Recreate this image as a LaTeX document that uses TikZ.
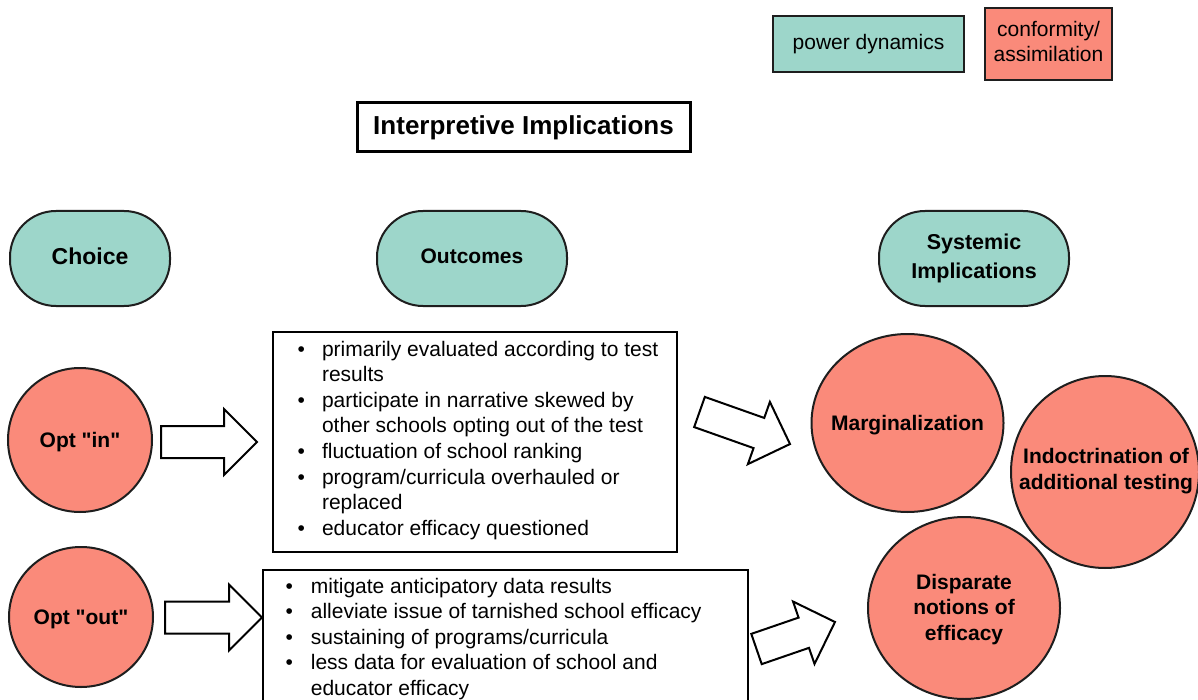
\documentclass[tikz,border=0pt]{standalone}
\usepackage{fontspec}
\setmainfont{Liberation Sans}
\usetikzlibrary{shapes.arrows,shapes.geometric}
\definecolor{tealfill}{RGB}{157,214,202}
\definecolor{salmfill}{RGB}{250,138,122}
\definecolor{edgecol}{RGB}{30,30,30}
\newcommand{\straightquote}{\XeTeXglyph\XeTeXcharglyph"22\relax}
\begin{document}
\begin{tikzpicture}[x=1pt,y=-1pt,
  every node/.style={inner sep=0pt, outer sep=0pt},
  legendbox/.style={draw=edgecol, line width=2.5pt, align=center, font=\fontsize{21}{25}\selectfont},
  stadium/.style={draw=edgecol, line width=2pt, fill=tealfill, rounded corners=46pt,
    minimum width=160pt, minimum height=95pt, align=center},
  choicecirc/.style={ellipse, draw=edgecol, line width=2pt, fill=salmfill},
  circtext/.style={align=center, font=\fontsize{21}{25.5}\selectfont\bfseries},
  listbox/.style={draw=black, line width=2pt, fill=white},
  listtext/.style={anchor=base west, font=\fontsize{21}{25.6}\selectfont},
  blockarrow/.style={single arrow, draw=black, line width=2pt, fill=white, anchor=tail,
    minimum width=0pt, inner xsep=0pt, inner ysep=15pt, single arrow head extend=17pt}
]
\clip (0,0) rectangle (1198,700);
\fill[white] (0,0) rectangle (1198,700);

% legend
\node[legendbox, fill=tealfill, minimum width=191pt, minimum height=56pt] (legpower) at (868.5,44) {power dynamics};
\node[legendbox, fill=salmfill, minimum width=127pt, minimum height=72pt] (legconf) at (1048.5,44) {};
\node[align=center, font=\fontsize{21}{25}\selectfont] (legconftext) at (1048.5,41.5) {conformity/\\assimilation};

% title
\node[draw=black, line width=3pt, fill=white, minimum width=333pt, minimum height=49pt,
  font=\fontsize{26}{30}\selectfont\bfseries] (title) at (523.5,127.5) {Interpretive Implications};

% headers
\node[stadium] (choice) at (90,258.5) {};
\node[font=\fontsize{23}{28}\selectfont\bfseries] (choicetext) at (90,256.5) {Choice};
\node[stadium, minimum width=190pt] (outcomes) at (472,258.5) {};
\node[font=\fontsize{21}{28}\selectfont\bfseries] (outcomestext) at (472,256.5) {Outcomes};
\node[stadium, minimum width=190pt] (systemic) at (974,258.5) {};
\node[align=center, font=\fontsize{21.5}{28.5}\selectfont\bfseries] (systemictext) at (974,258.5) {Systemic\\Implications};

% choice circles
\node[choicecirc, minimum width=144pt, minimum height=144pt] (optin) at (80,440) {};
\node[circtext] (optintext) at (80,442) {Opt \straightquote in\straightquote};
\node[choicecirc, minimum width=144pt, minimum height=140pt] (optout) at (81,617) {};
\node[circtext] (optouttext) at (81,619) {Opt \straightquote out\straightquote};

% outcome boxes
\node[listbox, anchor=north west, minimum width=404pt, minimum height=220pt] (boxin) at (273,332) {};
\node[listtext] (textin) at (297.5,356) {\begin{tabular}[t]{@{}l@{\hspace{17.2pt}}l@{}}
\textbullet & primarily evaluated according to test\\
 & results\\
\textbullet & participate in narrative skewed by\\
 & other schools opting out of the test\\
\textbullet & fluctuation of school ranking\\
\textbullet & program/curricula overhauled or\\
 & replaced\\
\textbullet & educator efficacy questioned
\end{tabular}};

\node[listbox, anchor=north west, minimum width=485pt, minimum height=150pt] (boxout) at (263,570) {};
\node[listtext] (textout) at (285.5,593) {\begin{tabular}[t]{@{}l@{\hspace{18pt}}l@{}}
\textbullet & mitigate anticipatory data results\\
\textbullet & alleviate issue of tarnished school efficacy\\
\textbullet & sustaining of programs/curricula\\
\textbullet & less data for evaluation of school and\\
 & educator efficacy
\end{tabular}};

% systemic circles
\node[choicecirc, minimum width=192pt, minimum height=178pt] (margin) at (907.5,423) {};
\node[circtext] (margintext) at (907.5,425) {Marginalization};
\node[choicecirc, minimum width=188pt, minimum height=192pt] (indoc) at (1105,472) {};
\node[circtext] (indoctext) at (1106,471) {Indoctrination of\\additional testing};
\node[choicecirc, minimum width=192pt, minimum height=182pt] (dispar) at (964,608) {};
\node[circtext] (dispartext) at (964,609.5) {Disparate\\notions of\\efficacy};

% block arrows
\node[blockarrow, minimum height=96pt] (arrin) at (161,442) {};
\node[blockarrow, minimum height=97pt] (arrout) at (165,617.5) {};
\node[blockarrow, minimum height=96pt, rotate=-19.5] (arrsys1) at (699.5,412) {};
\node[blockarrow, minimum height=83pt, rotate=19] (arrsys2) at (756.5,649) {};
\end{tikzpicture}
\end{document}
